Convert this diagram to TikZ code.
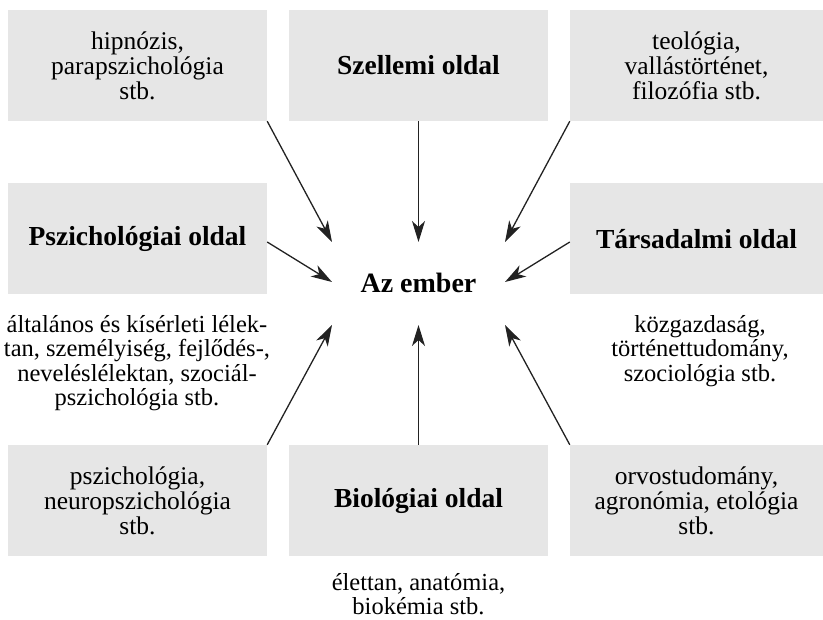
\documentclass[tikz,border=0pt]{standalone}
\usepackage{fontspec}
\setmainfont{Liberation Serif}
\usetikzlibrary{arrows.meta}
\definecolor{boxgray}{HTML}{E6E6E6}
\definecolor{arrgray}{HTML}{222222}
\begin{document}
\begin{tikzpicture}[x=1pt,y=-1pt,
  box/.style={fill=boxgray, draw=none, minimum width=259pt, minimum height=111pt, align=center, inner sep=0pt, font=\fontsize{25.5}{25}\selectfont},
  hbox/.style={box, font=\fontsize{27.5}{28}\selectfont\bfseries},
  desc/.style={align=center, inner sep=0pt, font=\fontsize{24.5}{24.5}\selectfont},
  arr/.style={draw=arrgray, line width=1.3pt, -{Stealth[length=21pt, width=13pt, inset=6pt]}},
]
\useasboundingbox (0,0) rectangle (823,620);
% boxes
\node[box] (tl) at (137.5,65.5) {hipnózis,\\parapszichológia\\stb.};
\node[hbox] (tm) at (418.5,65.5) {Szellemi oldal};
\node[box, minimum width=253pt] (tr) at (696.5,65.5) {teológia,\\vallástörténet,\\filozófia stb.};
\node[hbox] (ml) at (137.5,239) {Pszichológiai oldal};
\node[hbox, minimum width=253pt] (mr) at (696.5,239) {Társadalmi oldal};
\node[box] (bl) at (137.5,500.5) {pszichológia,\\neuropszichológia\\stb.};
\node[hbox] (bm) at (418.5,500.5) {Biológiai oldal};
\node[box, minimum width=253pt] (br) at (696.5,500.5) {orvostudomány,\\agronómia, etológia\\stb.};
% center
\node[font=\fontsize{28}{28}\selectfont\bfseries] (c) at (418.5,283) {Az ember};
% descriptions
\node[desc] (dl) at (137,363) {általános és kísérleti lélek-\\tan, személyiség, fejlődés-,\\neveléslélektan, szociál-\\pszichológia stb.};
\node[desc] (dr) at (700,351) {közgazdaság,\\történettudomány,\\szociológia stb.};
\node[desc] (db) at (418.5,594) {élettan, anatómia,\\biokémia stb.};
% arrow targets
\coordinate (p1) at (332,242);
\coordinate (p2) at (418.5,242);
\coordinate (p3) at (505,242);
\coordinate (p4) at (332,282);
\coordinate (p5) at (505,282);
\coordinate (p6) at (332,325);
\coordinate (p7) at (418.5,325);
\coordinate (p8) at (505,325);
% arrows
\draw[arr] (tl.south east) -- (p1);
\draw[arr] (tm.south) -- (p2);
\draw[arr] (tr.south west) -- (p3);
\draw[arr] ([yshift=-3pt]ml.east) -- (p4);
\draw[arr] ([yshift=-3pt]mr.west) -- (p5);
\draw[arr] (bl.north east) -- (p6);
\draw[arr] (bm.north) -- (p7);
\draw[arr] (br.north west) -- (p8);
\end{tikzpicture}
\end{document}
